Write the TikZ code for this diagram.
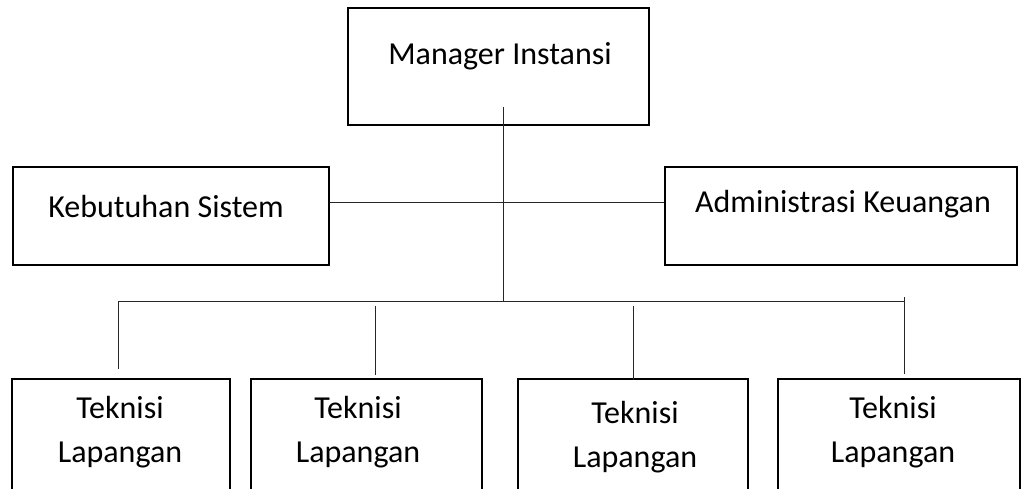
\documentclass[tikz,border=0pt]{standalone}
\usepackage{fontspec}
\setmainfont{Carlito}
\usetikzlibrary{calc}
\tikzset{
    orgbox/.style={draw=black, line width=2pt, inner sep=0pt},
    orgtext/.style={font=\fontsize{32}{44}\selectfont, align=center, inner sep=0pt, anchor=base},
    conn/.style={draw=black!85, line width=1pt}
}
\begin{document}
\begin{tikzpicture}[x=1pt,y=-1pt]
            \useasboundingbox (0,0) rectangle (1021,489);

            % kotak atas
            \node[orgbox, minimum width=301pt, minimum height=117pt] (manager) at (498.5,66.5) {};
            \node[orgtext] (managertxt) at (500,65) {Manager Instansi};
            \node[orgbox, minimum width=316pt, minimum height=98pt] (kebutuhan) at (171,216) {};
            \node[orgtext] (kebutuhantxt) at (166,218) {Kebutuhan Sistem};
            \node[orgbox, minimum width=352pt, minimum height=98pt] (admin) at (841,216) {};
            \node[orgtext] (admintxt) at (843,213) {Administrasi Keuangan};

            % kotak teknisi
            \foreach \n/\c/\w/\tx/\ty in {1/121/218/120/462, 2/366.5/231/358/462, 3/633/230/635/467, 4/899/242/893/462}{
                    \node[orgbox, minimum width=\w pt, minimum height=150pt, anchor=north] (t\n) at (\c,378) {};
                    \node[orgtext] (t\n txt) at (\tx,\ty) {Teknisi\\Lapangan};
                }

            % garis
            \coordinate (trunkT) at (503,107);
            \coordinate (hub) at (503,302);
            \coordinate (busL) at (118,302);
            \coordinate (busR) at (905,302);
            \draw[conn] (trunkT) -- (hub);
            \draw[conn] ([yshift=13pt]kebutuhan.east) -- ([yshift=13pt]admin.west);
            \draw[conn] (busL) -- (busR);
            \foreach \n/\x/\a/\g in {1/118/302/9, 2/375/306/3, 3/633/306/-2, 4/904/297/4}{
                    \coordinate (drop\n) at (\x,\a);
                    \draw[conn] (drop\n) -- ($(drop\n |- t\n.north)+(0,-\g)$);
                }
        \end{tikzpicture}
\end{document}
